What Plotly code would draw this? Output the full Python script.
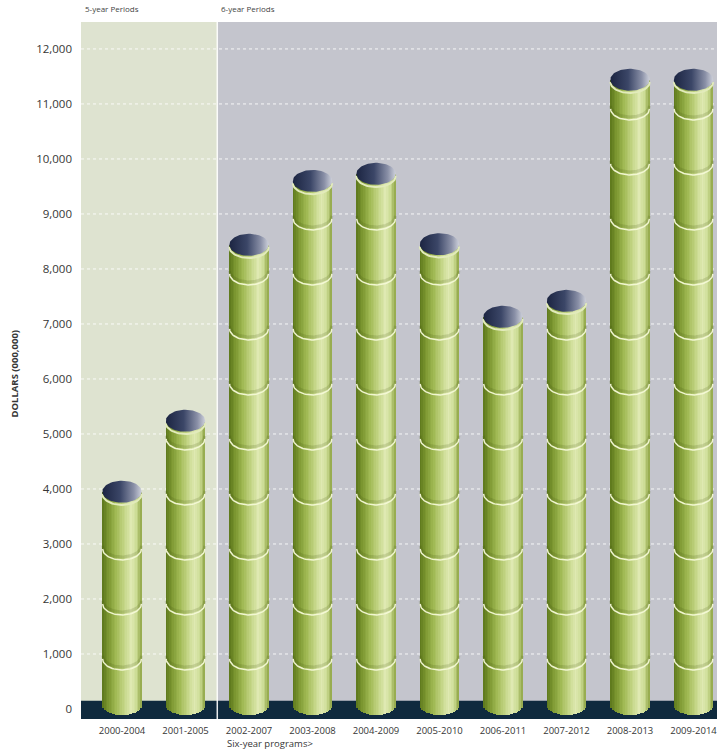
import numpy as np
import plotly.graph_objects as go

# ---------------- data ----------------
periods = ["2000-2004", "2001-2005", "2002-2007", "2003-2008", "2004-2009",
           "2005-2010", "2006-2011", "2007-2012", "2008-2013", "2009-2014"]
totals = [3950, 5240, 8440, 9600, 9730, 8450, 7130, 7420, 11440, 11440]
y_ticks = list(range(0, 12001, 1000))
five_year_count = 2
header_labels = ["5-year Periods", "6-year Periods"]
x_note = "Six-year programs>"
y_title = "DOLLARS (000,000)"

# ---------------- styling ----------------
FONT = "Open Sans"
TXT = "#363636"
HALF_W = 0.31          # half bar width (category units)
N_STRIPS = 24
CAP_B = 200            # cap ellipse semi-height (value units)
BASE_C, BASE_B = 70, 180
RING_OFF, RING_B = 90, 200
Y_RANGE = [-182, 12490]
X_RANGE = [-0.646, 9.37]

body_stops = [(0.0, "#5c761b"), (0.14, "#7a952f"), (0.34, "#9fb852"),
              (0.55, "#c3d585"), (0.73, "#dfe9b2"), (0.87, "#cbdb93"),
              (1.0, "#8ea444")]


def hex2rgb(h):
    h = h.lstrip("#")
    return [int(h[i:i + 2], 16) for i in (0, 2, 4)]


def interp(stops, t):
    for (t0, c0), (t1, c1) in zip(stops[:-1], stops[1:]):
        if t0 <= t <= t1:
            f = (t - t0) / (t1 - t0) if t1 > t0 else 0
            a, b = hex2rgb(c0), hex2rgb(c1)
            r = [round(a[k] + (b[k] - a[k]) * f) for k in range(3)]
            return "rgb(%d,%d,%d)" % tuple(r)
    return stops[-1][1]


xs = np.arange(len(periods))
split = five_year_count - 0.5

fig = go.Figure()

# cylinder bodies as vertical gradient strips of bars
sw = 2 * HALF_W / N_STRIPS
for j in range(N_STRIPS):
    u0 = -1 + 2 * j / N_STRIPS
    uc = u0 + 1 / N_STRIPS
    base = BASE_C - BASE_B * np.sqrt(max(0.0, 1 - uc ** 2))
    fig.add_trace(go.Bar(
        x=xs, y=[v - base for v in totals], base=[base] * len(totals),
        width=sw * 1.25 if j < N_STRIPS - 1 else sw, offset=u0 * HALF_W,
        marker=dict(color=interp(body_stops, (j + 0.5) / N_STRIPS), line=dict(width=0)),
        hoverinfo="skip", showlegend=False))

# ring bands at each 1000 level
t_half = np.linspace(0, np.pi, 40)
sx, sy, lx, ly = [], [], [], []
for i, v in zip(xs, totals):
    for lvl in y_ticks[1:]:
        if lvl < v - 200:
            c = lvl - RING_OFF
            ax = i + HALF_W * 0.985 * np.cos(t_half)
            sx += list(ax) + [None]
            sy += list(c + 55 - RING_B * np.sin(t_half)) + [None]
            lx += list(ax) + [None]
            ly += list(c - RING_B * np.sin(t_half)) + [None]
fig.add_trace(go.Scatter(x=sx, y=sy, mode="lines",
                         line=dict(color="rgba(60,80,15,0.16)", width=3),
                         hoverinfo="skip", showlegend=False))
fig.add_trace(go.Scatter(x=lx, y=ly, mode="lines",
                         line=dict(color="rgba(244,249,215,0.95)", width=1.5),
                         hoverinfo="skip", showlegend=False))

# top rim highlight and caps
t_full = np.linspace(0, 2 * np.pi, 80)
for i, v in zip(xs, totals):
    fig.add_trace(go.Scatter(
        x=i + HALF_W * np.cos(t_half), y=v - 40 - CAP_B * np.sin(t_half),
        mode="lines", line=dict(color="#e2ebbb", width=2),
        hoverinfo="skip", showlegend=False))
    fig.add_trace(go.Scatter(
        x=i + HALF_W * np.cos(t_full), y=v + CAP_B * np.sin(t_full),
        mode="lines", fill="toself", line=dict(width=0, color="rgba(0,0,0,0)"),
        fillcolor="#4a5470",
        fillgradient=dict(type="horizontal",
                          colorscale=[[0, "#1c2542"], [0.45, "#3b4667"],
                                      [0.8, "#8a90a7"], [1, "#cdd0da"]]),
        hoverinfo="skip", showlegend=False))

shapes = [
    dict(type="rect", xref="x", yref="paper", x0=X_RANGE[0], x1=split, y0=0, y1=1,
         fillcolor="#dee3d0", line=dict(width=0), layer="below"),
]
for lvl in y_ticks[1:]:
    shapes.append(dict(type="line", xref="paper", yref="y", x0=0, x1=1, y0=lvl, y1=lvl,
                       line=dict(color="rgba(255,255,255,0.85)", width=1, dash="dot"),
                       layer="below"))
shapes += [
    dict(type="rect", xref="paper", yref="y", x0=0, x1=1, y0=Y_RANGE[0], y1=150,
         fillcolor="#0f2a3e", line=dict(width=0), layer="below"),
    dict(type="line", xref="x", yref="paper", x0=split, x1=split, y0=0, y1=1,
         line=dict(color="rgba(255,255,255,0.9)", width=1.5), layer="below"),
]

annotations = [
    dict(text=header_labels[0], xref="paper", yref="paper", x=0.003, y=1.0,
         xanchor="left", yanchor="bottom", yshift=6, showarrow=False,
         font=dict(family=FONT, size=8, color="#444")),
    dict(text=header_labels[1], xref="x", yref="paper", x=split, y=1.0,
         xanchor="left", yanchor="bottom", xshift=2, yshift=6, showarrow=False,
         font=dict(family=FONT, size=8, color="#444")),
    dict(text=x_note, xref="x", yref="paper", x=split, y=0, xanchor="left",
         yanchor="top", xshift=8, yshift=-16, showarrow=False,
         font=dict(family=FONT, size=9.5, color=TXT)),
    dict(text="<b>" + y_title + "</b>", xref="paper", yref="paper", x=-0.105,
         y=0.496, textangle=-90, showarrow=False, xanchor="center", yanchor="middle",
         font=dict(family=FONT, size=9.5, color=TXT)),
]

fig.update_layout(
    width=717, height=753, margin=dict(l=81, r=0, t=22, b=34),
    paper_bgcolor="white", plot_bgcolor="#c4c5cd",
    barmode="overlay", bargap=0, showlegend=False,
    shapes=shapes, annotations=annotations,
    xaxis=dict(range=X_RANGE, tickvals=xs, ticktext=periods, showgrid=False,
               zeroline=False, ticks="", ticklabelstandoff=4,
               ticklabeloverflow="allow",
               tickfont=dict(family=FONT, size=9.5, color=TXT)),
    yaxis=dict(range=Y_RANGE, tickvals=y_ticks, tickformat=",", showgrid=False,
               zeroline=False, ticks="", ticklabelstandoff=8,
               tickfont=dict(family=FONT, size=11.5, color=TXT)),
)

fig.write_html("out.html")
